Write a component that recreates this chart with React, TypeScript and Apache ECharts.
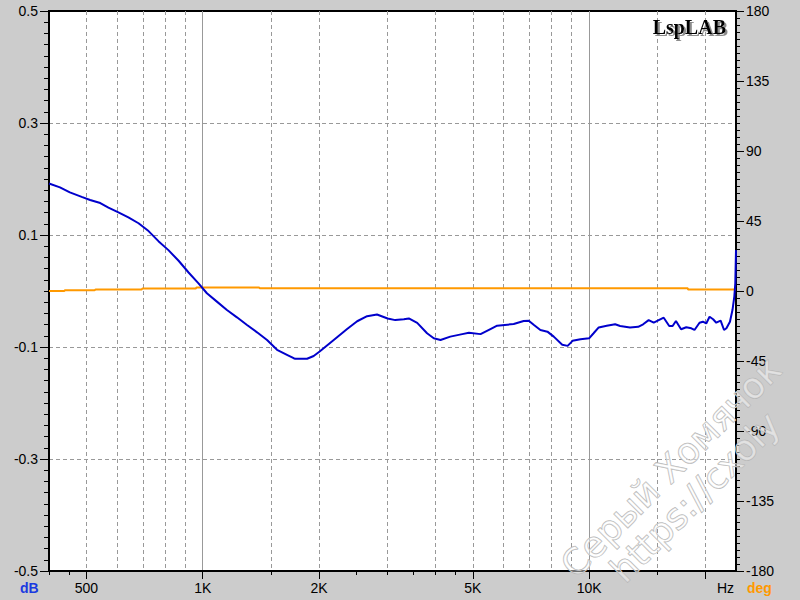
import React, { useEffect, useRef } from "react";
import * as echarts from "echarts";

// ---- data ----
const freqHz = [
  400, 427, 453, 486, 511, 543, 570, 605, 642, 682, 724, 768, 815, 866, 919, 975,
  1025, 1088, 1155, 1226, 1302, 1382, 1467, 1557, 1652, 1719, 1736, 1862, 1937, 2007,
  2183, 2364, 2510, 2663, 2825, 3010, 3150, 3315, 3415, 3590, 3807, 3962, 4125, 4372,
  4695, 4885, 5236, 5554, 5780, 6380, 6770, 6980, 7200, 7480, 7800, 8100, 8520, 8800,
  9060, 9500, 10000, 10270, 10590, 11110, 11680, 12030, 12760, 13400, 13800, 14260,
  14700, 15600, 16120, 16450, 16780, 17300, 17840, 18390, 18740, 19310, 19700, 20100,
  20500, 20940, 21340, 21900, 22350, 22670, 23150, 23500, 23760, 23900, 24000,
];
const levelDb = [
  0.192, 0.185, 0.176, 0.168, 0.1625, 0.157, 0.149, 0.1405, 0.1316, 0.121, 0.107, 0.089,
  0.073, 0.054, 0.033, 0.0137, -0.004, -0.019, -0.034, -0.047, -0.0607, -0.0738, -0.0875,
  -0.105, -0.114, -0.12, -0.121, -0.121, -0.116, -0.108, -0.0875, -0.068, -0.054, -0.045,
  -0.042, -0.049, -0.052, -0.0505, -0.049, -0.057, -0.0755, -0.0845, -0.0875, -0.0815,
  -0.077, -0.0745, -0.077, -0.068, -0.062, -0.059, -0.0535, -0.053, -0.0607, -0.0696,
  -0.0726, -0.0815, -0.096, -0.098, -0.089, -0.086, -0.0845, -0.0755, -0.065, -0.062,
  -0.0595, -0.0625, -0.065, -0.064, -0.0595, -0.052, -0.0566, -0.0477, -0.0625, -0.0625,
  -0.0536, -0.0684, -0.0648, -0.0666, -0.0696, -0.0566, -0.0548, -0.058, -0.046, -0.0505,
  -0.0566, -0.053, -0.0696, -0.0666, -0.055, -0.034, -0.01, 0.0137, 0.073,
];
const phaseFreqHz = [400, 438, 440, 525, 528, 695, 698, 960, 963, 1400, 1405, 18000, 18050, 24000];
const phaseDeg = [0, 0, 0.5, 0.5, 1.0, 1.0, 1.6, 1.6, 2.2, 2.2, 1.8, 1.8, 0.9, 0.9];

const dbLabelTicks = [-0.5, -0.3, -0.1, 0.1, 0.3, 0.5];
const dbGridLines = [-0.3, -0.1, 0.1, 0.3];
const freqLabels = [500, 1000, 2000, 5000, 10000];
const freqMajorTicks = [500, 1000, 2000, 5000, 10000, 20000];
const freqMinorTicks = [400, 450, 1500, 2500, 3000, 3500, 4000, 4500, 15000];
const freqDashedGrid = [500, 600, 700, 800, 900, 1500, 2000, 3000, 4000, 5000, 6000, 7000, 8000, 9000, 15000, 20000];
const freqSolidGrid = [1000, 10000];

const X_MIN = 400;
const X_MAX = 24000;

const FONT = "'Liberation Sans', Arial, sans-serif";

function fmtFreq(v: number): string {
  return v >= 1000 ? `${Math.round(v / 1000)}K` : String(Math.round(v));
}

export default function App() {
  const ref = useRef<HTMLDivElement>(null);

  useEffect(() => {
    if (!ref.current) return;
    const chart = echarts.init(ref.current, undefined, { renderer: "svg" });
    const tickStyle = { color: "#000", width: 1 };
    const baseX: any = {
      type: "log",
      logBase: 10,
      min: X_MIN,
      max: X_MAX,
      position: "bottom",
      gridIndex: 0,
      minorTick: { show: false },
      minorSplitLine: { show: false },
    };
    const baseY: any = {
      type: "value",
      min: -0.5,
      max: 0.5,
      interval: 0.1,
      position: "left",
    };
    const watermarkStyle = {
      font: "36px 'DejaVu Sans', sans-serif",
      fill: "rgba(255,255,255,0.45)",
      stroke: "#b4b4b4",
      lineWidth: 1,
      align: "center",
      verticalAlign: "middle",
    };

    chart.setOption({
      animation: false,
      backgroundColor: "#cccccc",
      grid: {
        left: 49,
        right: 64,
        top: 11,
        bottom: 29,
        show: true,
        backgroundColor: "#ffffff",
        borderColor: "#000000",
        borderWidth: 2,
        containLabel: false,
        outerBoundsMode: "none",
      },
      xAxis: [
        {
          ...baseX,
          axisLine: { show: true, onZero: false, lineStyle: { color: "#000", width: 2 } },
          axisTick: { show: true, inside: false, length: 8, customValues: freqMajorTicks, lineStyle: tickStyle },
          axisLabel: {
            show: true,
            customValues: freqLabels,
            formatter: (v: number) => fmtFreq(v),
            color: "#000",
            fontSize: 14,
            fontFamily: FONT,
            margin: 10,
          },
          splitLine: { show: false },
        },
        {
          ...baseX,
          axisLine: { show: false, onZero: false },
          axisTick: { show: true, inside: false, length: 4, customValues: freqMinorTicks, lineStyle: tickStyle },
          axisLabel: { show: false },
          splitLine: { show: false },
        },
        {
          ...baseX,
          axisLine: { show: false, onZero: false },
          axisTick: { show: false, customValues: freqDashedGrid },
          axisLabel: { show: false },
          splitLine: { show: true, lineStyle: { color: "#999999", width: 1, type: [4, 3] } },
        },
        {
          ...baseX,
          axisLine: { show: false, onZero: false },
          axisTick: { show: false, customValues: freqSolidGrid },
          axisLabel: { show: false },
          splitLine: { show: true, lineStyle: { color: "#999999", width: 1, type: "solid" } },
        },
      ],
      yAxis: [
        {
          ...baseY,
          axisLine: { show: true, onZero: false, lineStyle: { color: "#000", width: 2 } },
          axisTick: { show: true, inside: false, length: 5, lineStyle: tickStyle },
          minorTick: { show: true, splitNumber: 5, length: 5, lineStyle: tickStyle },
          axisLabel: {
            show: true,
            customValues: dbLabelTicks,
            formatter: (v: number) => v.toFixed(1),
            color: "#000",
            fontSize: 14,
            fontFamily: FONT,
            margin: 11,
          },
          splitLine: { show: false },
        },
        {
          type: "value",
          position: "right",
          min: -180,
          max: 180,
          interval: 45,
          axisLine: { show: true, onZero: false, lineStyle: { color: "#000", width: 2 } },
          axisTick: { show: true, inside: false, length: 8, lineStyle: tickStyle },
          minorTick: { show: true, splitNumber: 10, length: 4, lineStyle: tickStyle },
          axisLabel: {
            show: true,
            formatter: (v: number) => String(v),
            color: "#000",
            fontSize: 14,
            fontFamily: FONT,
            margin: 10,
          },
          splitLine: { show: false },
        },
        {
          ...baseY,
          axisLine: { show: false, onZero: false },
          axisTick: { show: true, inside: false, length: 9, customValues: dbLabelTicks, lineStyle: tickStyle },
          axisLabel: { show: false },
          splitLine: { show: false },
        },
        {
          ...baseY,
          axisLine: { show: false, onZero: false },
          axisTick: { show: false, customValues: dbGridLines },
          axisLabel: { show: false },
          splitLine: { show: true, lineStyle: { color: "#999999", width: 1, type: [4, 3] } },
        },
      ],
      series: [
        {
          name: "deg",
          type: "line",
          xAxisIndex: 0,
          yAxisIndex: 1,
          data: phaseFreqHz.map((f, i) => [f, phaseDeg[i]]),
          showSymbol: false,
          symbol: "none",
          lineStyle: { color: "#ff9900", width: 2 },
          clip: true,
          z: 3,
        },
        {
          name: "dB",
          type: "line",
          xAxisIndex: 0,
          yAxisIndex: 0,
          data: freqHz.map((f, i) => [f, levelDb[i]]),
          showSymbol: false,
          symbol: "none",
          lineStyle: { color: "#0000cc", width: 2 },
          clip: true,
          z: 4,
        },
      ],
      graphic: [
        {
          type: "text",
          x: 726,
          y: 26.5,
          z: 51,
          style: {
            text: "LspLAB",
            font: "bold 20px 'Liberation Serif', 'Times New Roman', serif",
            fill: "#000000",
            align: "right",
            verticalAlign: "middle",
            textShadowColor: "#8c8c8c",
            textShadowBlur: 1,
            textShadowOffsetX: 2,
            textShadowOffsetY: 2,
          },
        },
        {
          type: "text",
          x: 20,
          y: 588,
          style: { text: "dB", font: `bold 14px ${FONT}`, fill: "#1a3ae0", align: "left", verticalAlign: "middle" },
        },
        {
          type: "text",
          x: 717,
          y: 588,
          style: { text: "Hz", font: `14px ${FONT}`, fill: "#000000", align: "left", verticalAlign: "middle" },
        },
        {
          type: "text",
          x: 747,
          y: 588,
          style: { text: "deg", font: `bold 14px ${FONT}`, fill: "#ff9900", align: "left", verticalAlign: "middle" },
        },
        {
          type: "text",
          x: 671,
          y: 467,
          rotation: Math.PI / 4,
          z: 100,
          style: { text: "Серый Хомячок", ...watermarkStyle },
        },
        {
          type: "text",
          x: 695,
          y: 497,
          rotation: Math.PI / 4,
          z: 100,
          style: { text: "https://cxoly", ...watermarkStyle },
        },
      ],
    });

    return () => {
      chart.dispose();
    };
  }, []);

  return (
    <div
      ref={ref}
      style={{ position: "absolute", left: 0, top: 0, width: 800, height: 600 }}
    />
  );
}
